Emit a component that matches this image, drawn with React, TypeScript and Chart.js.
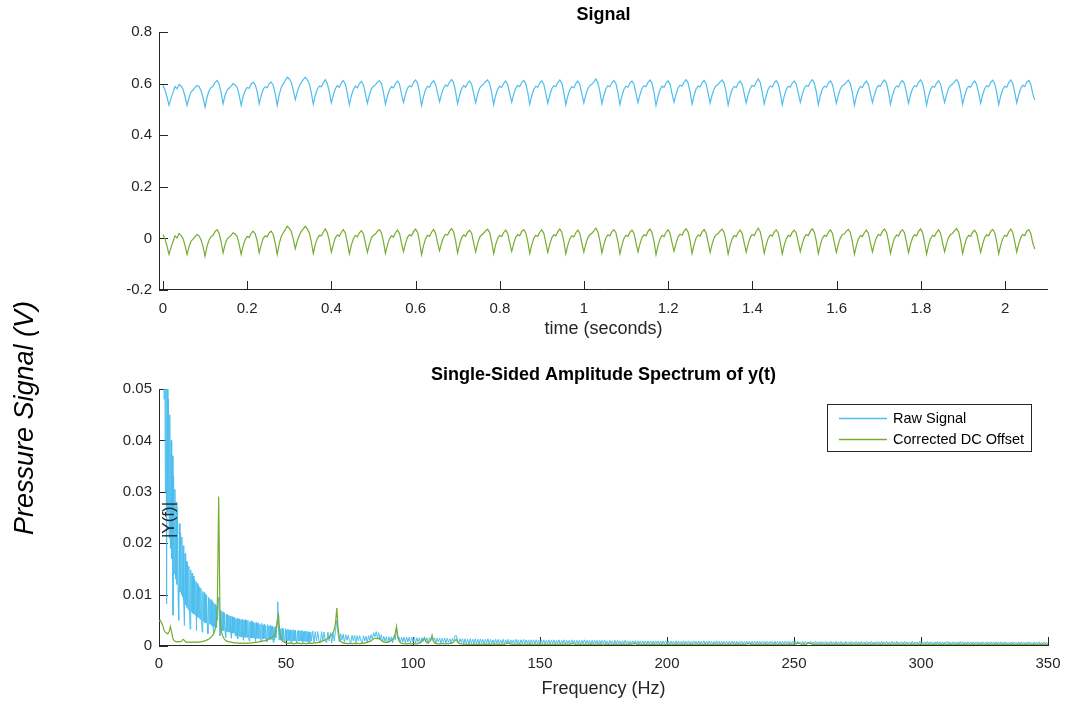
import React, { useEffect, useRef } from 'react';
import { Chart, registerables } from 'chart.js';

Chart.register(...registerables);

// ---------------- data ----------------
// Time-domain signal, one sample every SAMPLE_PERIOD_S seconds, values in millivolts
const SAMPLE_PERIOD_S = 0.00476;
const RAW_SIGNAL_MV = [
  593, 575, 548,
  516, 543, 566, 588, 580, 597, 590, 578, 550,
  516, 545, 568, 575, 585, 593, 588, 572, 545,
  509, 548, 572, 585, 590, 605, 612, 598, 565,
  522, 556, 575, 583, 590, 600, 595, 585, 555,
  516, 550, 573, 585, 582, 598, 606, 596, 568,
  522, 553, 578, 588, 584, 600, 606, 593, 560,
  516, 558, 585, 600, 612, 625, 618, 605, 575,
  538, 568, 590, 605, 615, 625, 615, 600, 565,
  520, 555, 578, 590, 588, 603, 615, 600, 568,
  525, 556, 580, 592, 586, 602, 612, 598, 562,
  518, 553, 577, 590, 584, 600, 608, 596, 560,
  524, 556, 580, 590, 595, 606, 612, 600, 566,
  520, 552, 576, 588, 583, 600, 610, 598, 560,
  527, 558, 582, 592, 588, 604, 614, 602, 566,
  515, 550, 576, 590, 586, 602, 612, 598, 562,
  530, 560, 582, 594, 590, 606, 616, 604, 568,
  522, 556, 580, 592, 586, 602, 610, 598, 562,
  526, 558, 582, 592, 598, 608, 614, 600, 565,
  519, 554, 578, 590, 585, 601, 610, 597, 561,
  528, 558, 582, 593, 588, 605, 612, 600, 566,
  520, 553, 578, 590, 586, 602, 611, 598, 562,
  524, 556, 580, 592, 588, 604, 614, 602, 566,
  518, 552, 576, 588, 584, 600, 610, 597, 560,
  525, 557, 581, 592, 598, 607, 618, 603, 568,
  522, 555, 580, 592, 588, 604, 612, 600, 565,
  518, 552, 578, 590, 586, 602, 610, 598, 562,
  526, 557, 581, 592, 588, 605, 614, 601, 566,
  515, 550, 576, 590, 585, 602, 611, 598, 561,
  528, 559, 583, 594, 590, 606, 615, 603, 568,
  520, 554, 579, 591, 587, 603, 612, 599, 563,
  524, 556, 580, 592, 597, 607, 614, 601, 565,
  517, 552, 577, 589, 585, 601, 610, 597, 561,
  525, 557, 581, 593, 589, 605, 618, 604, 567,
  521, 554, 579, 591, 587, 603, 611, 599, 563,
  518, 552, 577, 590, 586, 602, 610, 598, 562,
  527, 558, 582, 593, 589, 606, 615, 602, 567,
  519, 553, 578, 590, 586, 602, 611, 598, 562,
  524, 556, 580, 592, 596, 606, 613, 600, 565,
  516, 551, 576, 589, 585, 601, 610, 597, 560,
  526, 557, 581, 593, 589, 605, 614, 602, 567,
  520, 554, 579, 591, 587, 604, 612, 599, 563,
  523, 556, 580, 592, 588, 605, 615, 601, 565,
  517, 552, 577, 590, 586, 602, 611, 598, 561,
  527, 558, 582, 593, 598, 608, 616, 603, 568,
  520, 553, 578, 590, 586, 602, 610, 597, 562,
  524, 556, 581, 592, 588, 605, 613, 600, 565,
  518, 552, 577, 590, 586, 603, 614, 601, 566,
  525, 557, 581, 593, 589, 606, 612, 598, 560,
  537,
];
const CORRECTED_SIGNAL_MV = [
  15, -3, -30,
  -62, -35, -12, 10, 2, 19, 12, 0, -28,
  -62, -33, -10, -3, 7, 15, 10, -6, -33,
  -69, -30, -6, 7, 12, 27, 34, 20, -13,
  -56, -22, -3, 5, 12, 22, 17, 7, -23,
  -62, -28, -5, 7, 4, 20, 28, 18, -10,
  -56, -25, 0, 10, 6, 22, 28, 15, -18,
  -62, -20, 7, 22, 34, 47, 40, 27, -3,
  -40, -10, 12, 27, 37, 47, 37, 22, -13,
  -58, -23, 0, 12, 10, 25, 37, 22, -10,
  -53, -22, 2, 14, 8, 24, 34, 20, -16,
  -60, -25, -1, 12, 6, 22, 30, 18, -18,
  -54, -22, 2, 12, 17, 28, 34, 22, -12,
  -58, -26, -2, 10, 5, 22, 32, 20, -18,
  -51, -20, 4, 14, 10, 26, 36, 24, -12,
  -63, -28, -2, 12, 8, 24, 34, 20, -16,
  -48, -18, 4, 16, 12, 28, 38, 26, -10,
  -56, -22, 2, 14, 8, 24, 32, 20, -16,
  -52, -20, 4, 14, 20, 30, 36, 22, -13,
  -59, -24, 0, 12, 7, 23, 32, 19, -17,
  -50, -20, 4, 15, 10, 27, 34, 22, -12,
  -58, -25, 0, 12, 8, 24, 33, 20, -16,
  -54, -22, 2, 14, 10, 26, 36, 24, -12,
  -60, -26, -2, 10, 6, 22, 32, 19, -18,
  -53, -21, 3, 14, 20, 29, 40, 25, -10,
  -56, -23, 2, 14, 10, 26, 34, 22, -13,
  -60, -26, 0, 12, 8, 24, 32, 20, -16,
  -52, -21, 3, 14, 10, 27, 36, 23, -12,
  -63, -28, -2, 12, 7, 24, 33, 20, -17,
  -50, -19, 5, 16, 12, 28, 37, 25, -10,
  -58, -24, 1, 13, 9, 25, 34, 21, -15,
  -54, -22, 2, 14, 19, 29, 36, 23, -13,
  -61, -26, -1, 11, 7, 23, 32, 19, -17,
  -53, -21, 3, 15, 11, 27, 40, 26, -11,
  -57, -24, 1, 13, 9, 25, 33, 21, -15,
  -60, -26, -1, 12, 8, 24, 32, 20, -16,
  -51, -20, 4, 15, 11, 28, 37, 24, -11,
  -59, -25, 0, 12, 8, 24, 33, 20, -16,
  -54, -22, 2, 14, 18, 28, 35, 22, -13,
  -62, -27, -2, 11, 7, 23, 32, 19, -18,
  -52, -21, 3, 15, 11, 27, 36, 24, -11,
  -58, -24, 1, 13, 9, 26, 34, 21, -15,
  -55, -22, 2, 14, 10, 27, 37, 23, -13,
  -61, -26, -1, 12, 8, 24, 33, 20, -17,
  -51, -20, 4, 15, 20, 30, 38, 25, -10,
  -58, -25, 0, 12, 8, 24, 32, 19, -16,
  -54, -22, 3, 14, 10, 27, 35, 22, -13,
  -60, -26, -1, 12, 8, 25, 36, 23, -12,
  -53, -21, 3, 15, 11, 28, 34, 20, -18,
  -41,
];

// Single-sided amplitude spectra, values in units of 1e-4.
// Raw spectrum: fine bins (FINE_STEP_HZ) below COARSE_START_HZ, coarse bins (COARSE_STEP_HZ) above.
const FINE_STEP_HZ = 0.25;
const COARSE_START_HZ = 60;
const COARSE_STEP_HZ = 0.5;
const RAW_SPECTRUM_FINE_E4 = [
  5800, 1400, 900, 1100, 760, 900, 640, 700,
  480, 620, 300, 560, 82, 530, 260, 480,
  210, 450, 190, 400, 170, 370, 60, 330,
  140, 305, 130, 280, 120, 268, 110, 50,
  238, 105, 220, 100, 212, 95, 195, 88,
  40, 180, 80, 165, 75, 162, 70, 155,
  68, 33, 148, 66, 142, 64, 136, 62,
  130, 60, 126, 30, 122, 56, 118, 54,
  115, 52, 112, 50, 27, 106, 48, 104,
  46, 100, 45, 98, 44, 24, 95, 43,
  92, 42, 90, 40, 86, 39, 22, 82,
  37, 80, 36, 78, 50, 85, 95, 55,
  20, 70, 31, 68, 30, 66, 30, 64,
  29, 16, 62, 28, 60, 27, 60, 27,
  58, 26, 15, 57, 25, 56, 25, 55,
  20, 53, 19, 54, 14, 52, 19, 53,
  18, 51, 18, 52, 18, 11, 50, 17,
  51, 17, 48, 17, 50, 17, 10, 47,
  16, 49, 16, 46, 16, 47, 15, 44,
  9, 46, 15, 43, 15, 45, 15, 42,
  14, 8, 44, 14, 41, 14, 43, 14,
  40, 13, 8, 42, 13, 39, 13, 40,
  13, 38, 12, 39, 7, 36, 12, 38,
  16, 40, 52, 86, 42, 12, 35, 12,
  33, 11, 35, 11, 32, 11, 7, 34,
  11, 31, 11, 33, 11, 31, 10, 32,
  6, 30, 10, 32, 10, 30, 10, 31,
  10, 6, 29, 10, 31, 10, 29, 10,
  30, 10, 6, 28, 9, 29, 9, 28,
  9, 29, 9, 27, 6, 28, 9, 27,
];
const RAW_SPECTRUM_COARSE_E4 = [
  10, 29, 7, 28, 10, 28, 10, 6, 28, 10,
  27, 10, 6, 27, 10, 26, 6, 26, 10, 30,
  50, 22, 8, 24, 12, 23, 7, 22, 11, 21,
  11, 6, 21, 10, 21, 6, 20, 10, 20, 10,
  6, 20, 10, 19, 6, 20, 11, 22, 14, 26,
  18, 28, 16, 26, 12, 22, 8, 19, 9, 18,
  6, 18, 9, 18, 6, 19, 12, 35, 14, 17,
  6, 17, 8, 17, 6, 17, 8, 17, 6, 17,
  8, 17, 5, 16, 8, 16, 5, 16, 9, 18,
  8, 16, 5, 16, 10, 19, 9, 16, 5, 15,
  8, 15, 5, 15, 7, 15, 5, 15, 7, 14,
  5, 15, 9, 19, 21, 13, 5, 14, 7, 14,
  4, 14, 5, 13, 3, 14, 5, 13, 4, 14,
  5, 13, 3, 14, 5, 13, 4, 13, 5, 14,
  3, 13, 5, 12, 4, 13, 5, 13, 3, 12,
  5, 13, 4, 12, 5, 13, 3, 12, 5, 12,
  4, 13, 5, 12, 3, 12, 5, 13, 4, 12,
  5, 12, 3, 12, 5, 12, 4, 12, 5, 11,
  3, 12, 5, 12, 4, 11, 5, 12, 3, 11,
  5, 12, 4, 11, 5, 12, 3, 11, 5, 12,
  4, 11, 5, 11, 3, 12, 5, 11, 4, 11,
  5, 11, 3, 11, 5, 12, 4, 11, 5, 11,
  3, 11, 4, 11, 5, 11, 3, 11, 4, 11,
  5, 11, 3, 10, 4, 11, 5, 10, 3, 11,
  4, 11, 5, 10, 3, 10, 4, 11, 5, 10,
  3, 10, 4, 10, 5, 10, 3, 10, 4, 10,
  5, 10, 3, 10, 4, 10, 5, 10, 3, 10,
  4, 10, 5, 10, 3, 10, 4, 10, 5, 10,
  3, 10, 4, 10, 5, 9, 3, 10, 4, 10,
  5, 9, 3, 10, 4, 9, 5, 10, 3, 9,
  4, 10, 5, 9, 3, 10, 4, 9, 5, 10,
  3, 9, 4, 10, 5, 9, 3, 9, 4, 10,
  5, 9, 3, 9, 4, 9, 5, 9, 3, 9,
  4, 9, 5, 9, 3, 9, 4, 9, 5, 9,
  3, 9, 4, 9, 5, 9, 3, 9, 4, 9,
  5, 9, 3, 9, 4, 9, 5, 9, 3, 9,
  4, 9, 5, 9, 3, 9, 4, 9, 5, 9,
  3, 9, 4, 9, 5, 9, 3, 9, 4, 9,
  5, 9, 3, 9, 4, 8, 5, 9, 3, 9,
  4, 8, 5, 9, 3, 8, 4, 9, 5, 8,
  3, 9, 4, 8, 5, 9, 3, 8, 4, 9,
  5, 8, 3, 9, 4, 8, 5, 9, 3, 8,
  4, 9, 5, 8, 3, 9, 4, 8, 5, 9,
  3, 8, 4, 9, 5, 8, 3, 9, 4, 8,
  5, 9, 3, 8, 4, 9, 5, 8, 3, 9,
  4, 8, 5, 9, 3, 8, 4, 9, 5, 8,
  3, 9, 4, 8, 5, 8, 3, 9, 4, 8,
  5, 8, 3, 9, 4, 8, 5, 8, 3, 9,
  4, 8, 5, 8, 3, 9, 4, 8, 5, 8,
  3, 8, 4, 9, 5, 8, 3, 8, 4, 8,
  5, 9, 3, 8, 4, 8, 5, 8, 3, 8,
  4, 9, 5, 8, 3, 8, 4, 8, 5, 8,
  3, 8, 4, 8, 5, 8, 3, 8, 4, 8,
  5, 8, 3, 8, 4, 8, 5, 8, 3, 8,
  4, 8, 5, 8, 3, 8, 4, 8, 5, 7,
  3, 8, 4, 8, 5, 7, 3, 8, 4, 8,
  5, 7, 3, 8, 4, 8, 5, 7, 3, 8,
  4, 7, 5, 8, 3, 7, 4, 8, 5, 7,
  4,
];
// Corrected spectrum: bins every FREQ_STEP_HZ from 0 Hz
const FREQ_STEP_HZ = 0.5;
const CORRECTED_SPECTRUM_E4 = [
  48, 50, 45, 40, 30, 27, 25, 24, 28, 38,
  26, 14, 10, 9, 8, 8, 9, 8, 10, 13,
  11, 8, 7, 7, 8, 7, 7, 8, 7, 7,
  8, 7, 8, 8, 9, 9, 10, 11, 12, 13,
  15, 17, 20, 24, 30, 40, 90, 291, 60, 30,
  20, 15, 12, 10, 9, 8, 8, 7, 7, 6,
  6, 6, 6, 5, 6, 5, 5, 6, 5, 5,
  6, 5, 6, 6, 6, 7, 7, 7, 8, 8,
  9, 9, 10, 10, 11, 12, 13, 14, 15, 17,
  19, 22, 28, 40, 64, 28, 15, 10, 8, 7,
  6, 5, 5, 6, 5, 5, 4, 5, 5, 6,
  5, 5, 4, 5, 5, 5, 4, 5, 5, 6,
  5, 5, 6, 6, 6, 7, 7, 8, 9, 10,
  11, 12, 13, 15, 17, 19, 22, 26, 32, 45,
  74, 35, 16, 10, 7, 6, 5, 5, 5, 4,
  5, 5, 4, 5, 5, 4, 5, 5, 4, 5,
  5, 5, 6, 6, 7, 8, 9, 10, 12, 14,
  15, 15, 14, 15, 13, 11, 9, 8, 7, 7,
  7, 8, 9, 11, 13, 17, 24, 38, 20, 10,
  7, 5, 5, 4, 5, 4, 4, 5, 4, 4,
  5, 4, 5, 4, 5, 6, 7, 9, 12, 15,
  9, 6, 6, 8, 12, 21, 10, 6, 5, 4,
  4, 4, 4, 5, 4, 4, 4, 5, 4, 5,
  5, 6, 8, 10, 13, 8, 5, 4, 4, 4,
  3, 4, 3, 3, 4, 3, 4, 3, 3, 4,
  3, 3, 4, 3, 4, 3, 3, 4, 3, 3,
  4, 3, 3, 4, 3, 4, 3, 3, 4, 3,
  3, 4, 3, 4, 5, 6, 5, 4, 3, 3,
  4, 3, 3, 4, 3, 3, 4, 3, 4, 3,
  3, 4, 3, 3, 4, 3, 4, 3, 3, 4,
  3, 3, 4, 3, 3, 4, 3, 3, 4, 3,
  4, 3, 3, 4, 3, 3, 4, 3, 3, 4,
  3, 4, 3, 3, 4, 4, 5, 4, 3, 3,
  4, 3, 3, 4, 3, 3, 4, 3, 3, 4,
  3, 3, 4, 3, 3, 4, 3, 4, 3, 3,
  4, 3, 3, 4, 3, 3, 4, 3, 3, 4,
  3, 3, 4, 3, 3, 4, 3, 3, 4, 3,
  3, 4, 3, 4, 4, 5, 4, 3, 3, 4,
  3, 3, 4, 3, 3, 4, 3, 3, 4, 3,
  3, 4, 3, 3, 4, 3, 3, 4, 3, 3,
  4, 3, 3, 4, 3, 3, 4, 3, 3, 4,
  3, 3, 4, 3, 3, 4, 3, 3, 4, 3,
  3, 4, 3, 3, 4, 3, 3, 4, 3, 3,
  4, 3, 3, 4, 3, 3, 4, 3, 3, 4,
  3, 3, 4, 3, 3, 4, 3, 3, 4, 3,
  3, 4, 3, 3, 4, 3, 3, 4, 3, 3,
  4, 3, 3, 4, 5, 4, 3, 3, 4, 3,
  3, 4, 3, 3, 4, 3, 3, 4, 3, 3,
  4, 3, 3, 4, 3, 3, 4, 3, 3, 4,
  3, 3, 4, 3, 3, 4, 3, 3, 4, 3,
  3, 4, 5, 6, 5, 4, 3, 4, 3, 3,
  4, 5, 6, 5, 4, 3, 3, 4, 3, 3,
  4, 3, 3, 4, 3, 3, 4, 3, 3, 4,
  3, 3, 4, 3, 3, 4, 3, 3, 4, 3,
  3, 4, 3, 3, 4, 3, 3, 4, 3, 3,
  4, 3, 3, 4, 3, 3, 4, 3, 3, 4,
  3, 3, 4, 3, 3, 4, 3, 3, 4, 3,
  3, 4, 3, 3, 4, 3, 3, 4, 3, 3,
  4, 3, 3, 4, 3, 3, 4, 3, 3, 4,
  3, 3, 4, 3, 3, 4, 3, 3, 4, 3,
  3, 4, 3, 3, 4, 3, 3, 4, 3, 3,
  4, 3, 3, 4, 3, 3, 4, 3, 3, 4,
  3, 3, 4, 3, 3, 4, 3, 3, 4, 3,
  3, 4, 3, 3, 4, 3, 3, 4, 3, 3,
  4, 3, 3, 4, 3, 3, 4, 3, 3, 4,
  3, 3, 4, 3, 3, 4, 3, 3, 4, 3,
  3, 4, 3, 3, 4, 3, 3, 4, 3, 3,
  4, 3, 3, 4, 3, 3, 4, 3, 3, 4,
  3, 3, 4, 3, 3, 4, 3, 3, 4, 3,
  3, 4, 3, 3, 4, 3, 3, 4, 3, 3,
  3,
];

const SERIES_NAMES = ['Raw Signal', 'Corrected DC Offset'];
const SERIES_COLORS = ['#4DBEEE', '#77AC30'];

const TIME_RANGE_S = [-0.0095, 2.102];
const TIME_TICKS = [0, 0.2, 0.4, 0.6, 0.8, 1, 1.2, 1.4, 1.6, 1.8, 2];
const TIME_TICK_LABELS = ['0', '0.2', '0.4', '0.6', '0.8', '1', '1.2', '1.4', '1.6', '1.8', '2'];
const SIGNAL_RANGE_MV = [-200, 800];
const SIGNAL_TICKS_MV = [-200, 0, 200, 400, 600, 800];
const SIGNAL_TICK_LABELS = ['-0.2', '0', '0.2', '0.4', '0.6', '0.8'];
const FREQ_RANGE_HZ = [0, 350];
const FREQ_TICKS = [0, 50, 100, 150, 200, 250, 300, 350];
const FREQ_TICK_LABELS = ['0', '50', '100', '150', '200', '250', '300', '350'];
const AMP_RANGE_E4 = [0, 500];
const AMP_TICKS_E4 = [0, 100, 200, 300, 400, 500];
const AMP_TICK_LABELS = ['0', '0.01', '0.02', '0.03', '0.04', '0.05'];

const TOP_TITLE = 'Signal';
const TOP_XLABEL = 'time (seconds)';
const BOTTOM_TITLE = 'Single-Sided Amplitude Spectrum of y(t)';
const BOTTOM_XLABEL = 'Frequency (Hz)';
const BOTTOM_YLABEL = '|Y(f)|';
const SHARED_YLABEL = 'Pressure Signal (V)';

// ---------------- styling ----------------
const W = 1065;
const H = 706;
const FONT = "'Liberation Sans', Arial, Helvetica, sans-serif";
const AXIS_COLOR = '#262626';
const TICK_LEN = 9;

function axis(kind: 'x' | 'y', range: number[], ticks: number[], labels: string[], size: number, pad: number) {
  return {
    type: 'linear',
    min: range[0],
    max: range[1],
    grid: { display: false, drawTicks: false },
    border: { display: false },
    afterBuildTicks: (s: any) => {
      s.ticks = ticks.map((v) => ({ value: v }));
    },
    afterFit: (s: any) => {
      if (kind === 'x') {
        s.height = size;
        s.paddingLeft = 0;
        s.paddingRight = 0;
      } else {
        s.width = size;
        s.paddingTop = 0;
        s.paddingBottom = 0;
      }
    },
    ticks: {
      autoSkip: false,
      maxRotation: 0,
      minRotation: 0,
      padding: pad,
      color: AXIS_COLOR,
      font: { family: FONT, size: 15 },
      callback: (_v: any, i: number) => labels[i],
    },
  };
}

function text(ctx: CanvasRenderingContext2D, s: string, x: number, y: number, font: string, opts: any = {}) {
  ctx.save();
  ctx.font = font;
  ctx.fillStyle = opts.color || '#000';
  ctx.textAlign = opts.align || 'center';
  ctx.textBaseline = opts.baseline || 'middle';
  ctx.translate(x, y);
  if (opts.rotate) ctx.rotate(-Math.PI / 2);
  ctx.fillText(s, 0, 0);
  ctx.restore();
}

function decorPlugin(d: any) {
  return {
    id: 'matlabDecor',
    beforeDatasetsDraw(chart: any) {
      const { ctx, chartArea: a, scales } = chart;
      ctx.save();
      ctx.strokeStyle = AXIS_COLOR;
      ctx.lineWidth = 1;
      ctx.beginPath();
      ctx.moveTo(a.left + 0.5, a.top);
      ctx.lineTo(a.left + 0.5, a.bottom);
      ctx.moveTo(a.left, a.bottom - 0.5);
      ctx.lineTo(a.right, a.bottom - 0.5);
      for (const t of scales.x.ticks) {
        const px = Math.round(scales.x.getPixelForValue(t.value)) + 0.5;
        ctx.moveTo(px, a.bottom);
        ctx.lineTo(px, a.bottom - TICK_LEN);
      }
      for (const t of scales.y.ticks) {
        const py = Math.round(scales.y.getPixelForValue(t.value)) + 0.5;
        ctx.moveTo(a.left, py);
        ctx.lineTo(a.left + TICK_LEN, py);
      }
      ctx.stroke();
      ctx.restore();
    },
    afterDatasetsDraw(chart: any) {
      const { ctx, chartArea: a } = chart;
      const cx = (a.left + a.right) / 2;
      text(ctx, d.title, cx, d.titleY, `bold 18px ${FONT}`);
      text(ctx, d.xLabel, cx, d.xLabelY, `18px ${FONT}`, { color: AXIS_COLOR });
      if (d.yLabel) {
        text(ctx, d.yLabel, d.yLabelX, d.yLabelY, `17px ${FONT}`, { color: AXIS_COLOR, rotate: true, baseline: 'alphabetic' });
      }
      if (d.sideLabel) {
        text(ctx, d.sideLabel, 33, 418, `italic 27px ${FONT}`, { rotate: true, baseline: 'alphabetic' });
      }
      if (d.legend) {
        ctx.save();
        ctx.fillStyle = '#fff';
        ctx.fillRect(827.5, 404.5, 204, 47);
        ctx.strokeStyle = AXIS_COLOR;
        ctx.lineWidth = 1;
        ctx.strokeRect(827.5, 404.5, 204, 47);
        const rows = [418.5, 439.5];
        SERIES_NAMES.forEach((name, i) => {
          ctx.strokeStyle = SERIES_COLORS[i];
          ctx.lineWidth = 1.5;
          ctx.beginPath();
          ctx.moveTo(839, rows[i]);
          ctx.lineTo(887, rows[i]);
          ctx.stroke();
          text(ctx, name, 893, rows[i] + 0.5, `14.5px ${FONT}`, { align: 'left' });
        });
        ctx.restore();
      }
    },
  };
}

function lineDataset(k: number, points: { x: number; y: number }[], width: number) {
  return {
    label: SERIES_NAMES[k],
    data: points,
    borderColor: SERIES_COLORS[k],
    borderWidth: width,
    pointRadius: 0,
    tension: 0,
    fill: false,
    order: k === 0 ? 2 : 1,
  };
}

const onGrid = (vals: number[], start: number, step: number) => vals.map((v, i) => ({ x: start + i * step, y: v }));

function baseOptions(padTop: number, xAxis: any, yAxis: any) {
  return {
    responsive: false,
    devicePixelRatio: 1,
    animation: false,
    events: [],
    layout: { padding: { left: 0, right: 17, top: padTop, bottom: 0 } },
    plugins: { legend: { display: false }, title: { display: false }, tooltip: { enabled: false } },
    scales: { x: xAxis, y: yAxis },
  };
}

export default function App() {
  const topRef = useRef<HTMLCanvasElement>(null);
  const botRef = useRef<HTMLCanvasElement>(null);

  useEffect(() => {
    const top = new Chart(topRef.current as HTMLCanvasElement, {
      type: 'line',
      data: {
        datasets: [
          lineDataset(0, onGrid(RAW_SIGNAL_MV, 0, SAMPLE_PERIOD_S), 1.2),
          lineDataset(1, onGrid(CORRECTED_SIGNAL_MV, 0, SAMPLE_PERIOD_S), 1.2),
        ] as any,
      },
      options: baseOptions(
        32,
        axis('x', TIME_RANGE_S, TIME_TICKS, TIME_TICK_LABELS, H - 290, 10),
        axis('y', SIGNAL_RANGE_MV, SIGNAL_TICKS_MV, SIGNAL_TICK_LABELS, 159, 7)
      ) as any,
      plugins: [decorPlugin({ title: TOP_TITLE, titleY: 15, xLabel: TOP_XLABEL, xLabelY: 329 })],
    });
    const bot = new Chart(botRef.current as HTMLCanvasElement, {
      type: 'line',
      data: {
        datasets: [
          lineDataset(
            0,
            [
              ...onGrid(RAW_SPECTRUM_FINE_E4, 0, FINE_STEP_HZ),
              ...onGrid(RAW_SPECTRUM_COARSE_E4, COARSE_START_HZ, COARSE_STEP_HZ),
            ],
            1
          ),
          lineDataset(1, onGrid(CORRECTED_SPECTRUM_E4, 0, FREQ_STEP_HZ), 1.2),
        ] as any,
      },
      options: baseOptions(
        389,
        axis('x', FREQ_RANGE_HZ, FREQ_TICKS, FREQ_TICK_LABELS, H - 646, 9),
        axis('y', AMP_RANGE_E4, AMP_TICKS_E4, AMP_TICK_LABELS, 159, 7)
      ) as any,
      plugins: [
        decorPlugin({
          title: BOTTOM_TITLE,
          titleY: 375,
          xLabel: BOTTOM_XLABEL,
          xLabelY: 689,
          yLabel: BOTTOM_YLABEL,
          yLabelX: 174,
          yLabelY: 520,
          sideLabel: SHARED_YLABEL,
          legend: true,
        }),
      ],
    });
    return () => {
      top.destroy();
      bot.destroy();
    };
  }, []);

  const cs: React.CSSProperties = { position: 'absolute', left: 0, top: 0, width: W, height: H };
  return (
    <div style={{ position: 'fixed', left: 0, top: 0, width: W, height: H, background: '#fff' }}>
      <canvas ref={botRef} width={W} height={H} style={cs} />
      <canvas ref={topRef} width={W} height={H} style={cs} />
    </div>
  );
}
